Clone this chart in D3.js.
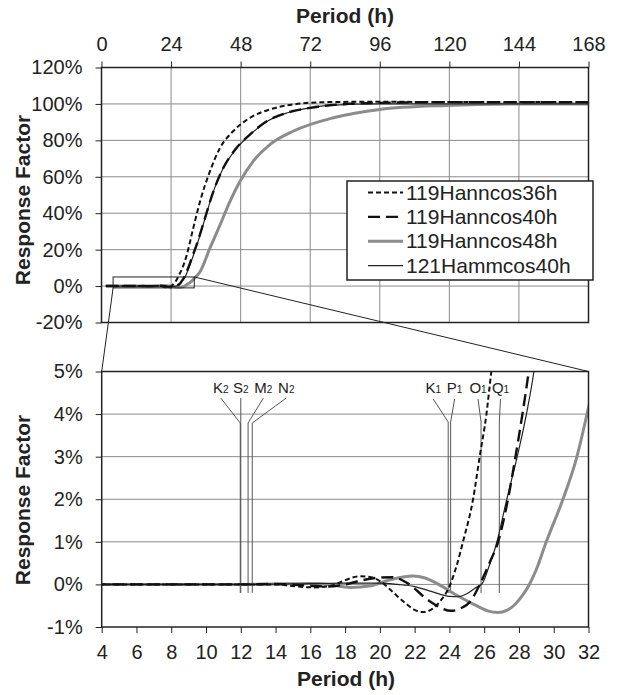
<!DOCTYPE html>
<html>
<head>
<meta charset="utf-8">
<script src="https://cdn.jsdelivr.net/npm/d3@7"></script>
<style>
  body { margin: 0; background: #fff; }
  svg text { font-family: "Liberation Sans", Arial, sans-serif; fill: #222; }
</style>
</head>
<body>
<svg id="chart" width="617" height="695"></svg>
<script>
// tick labels
const topHours = [0, 24, 48, 72, 96, 120, 144, 168];
const topPct = [-20, 0, 20, 40, 60, 80, 100, 120];
const zoomHours = [4, 6, 8, 10, 12, 14, 16, 18, 20, 22, 24, 26, 28, 30, 32];
const zoomPct = [-1, 0, 1, 2, 3, 4, 5];

// response factor (%) against period (h)
const seriesNames = ["119Hanncos36h", "119Hanncos40h", "119Hanncos48h", "121Hammcos40h"];

const hann36 = [[1.5,0],[4,0],[8,0],[12,0],[14,0],[15,-0.04],[16.2,-0.07],[17.2,-0.03],[18,0.1],[18.8,0.19],
  [19.5,0.17],[20.2,0.02],[20.8,-0.2],[21.5,-0.45],[22,-0.6],[22.5,-0.65],[23,-0.58],[23.5,-0.38],[24.05,0],
  [24.4,0.42],[24.78,1],[25.36,2],[25.74,3],[26.13,4],[26.41,5],[27.5,8.5],[28.5,12.5],[29.4,17],[31.65,31.8],
  [34,46.5],[37.4,63],[40.9,75.9],[45.4,85],[51.2,92.4],[58.1,97],[66.1,99.7],[77.7,101],[96,101.2],[120,101],[168,101]];

const hann40 = [[1.5,0],[4,0],[8,0],[12,0],[14,0.01],[16,-0.03],[17,-0.05],[18,0],[19,0.1],[20,0.16],[20.7,0.17],
  [21.5,0.05],[22,-0.1],[22.5,-0.28],[23,-0.43],[23.5,-0.55],[24.1,-0.62],[24.6,-0.57],[25.2,-0.4],[25.75,0],
  [26.3,0.5],[26.8,1],[27.37,2],[27.8,3],[28.2,4],[28.56,5],[29.4,8],[30.5,12.5],[31.5,17],[32.8,22.6],[35.7,37.3],
  [38.6,52],[42,64.8],[46.6,75.9],[51.2,83.2],[57,90.5],[63.9,95.1],[71.9,97.8],[78.8,99.3],[96,100.6],[120,101],[168,101]];

const hann48 = [[1.5,0],[4,0],[8,0],[12,0],[14,0.01],[16,0.02],[17,0],[18.3,-0.07],[19.5,-0.03],[20.5,0.1],[21.9,0.2],
  [22.6,0.15],[23.25,0.03],[24.4,-0.25],[25.55,-0.5],[26.2,-0.62],[26.8,-0.66],[27.3,-0.61],[27.8,-0.46],[28.2,-0.26],
  [28.6,0],[29,0.35],[29.57,1],[30.53,2],[31.3,2.95],[32,4.15],[34,7.9],[37.4,20.8],[40.9,33.6],[44.3,46.4],
  [47.8,57.5],[52.3,68.5],[58.1,77.7],[66.1,85],[80,92.4],[96,97],[119,99.2],[143,100],[168,100]];

const hamm40 = [[1.5,0],[4,0],[8,0],[12,0],[16,0.02],[18,0.03],[20,0.03],[21,0],[22,-0.05],[23,-0.17],[24,-0.28],
  [24.5,-0.29],[25,-0.22],[25.5,-0.08],[25.9,0.03],[26.3,0.45],[26.7,0.95],[27.3,2],[27.9,3],[28.43,4],[28.86,5],
  [29.6,7.8],[30.5,11.5],[31.5,16],[32.8,22],[35.7,37],[38.6,52],[42,64.8],[46.6,75.6],[51.2,83],[57,90.3],
  [63.9,95],[71.9,97.8],[78.8,99.2],[96,100],[168,100]];

// tidal constituents (period, h)
const semiNames = ["K2", "S2", "M2", "N2"];
const semiPeriods = [11.97, 12.0, 12.42, 12.66];
const diurNames = ["K1", "P1", "O1", "Q1"];
const diurPeriods = [23.93, 24.07, 25.82, 26.87];

const allSeries = [hann36, hann40, hann48, hamm40];
const styles = [
  { stroke: "#111", width: 2, dash: "5,3" },
  { stroke: "#111", width: 2.4, dash: "12,6" },
  { stroke: "#8c8c8c", width: 3, dash: null },
  { stroke: "#222", width: 1.2, dash: null },
];

const svg = d3.select("#chart");

// ---------- top panel ----------
const xTop = d3.scaleLinear().domain([0, 168]).range([101.5, 588.5]);
const yTop = d3.scaleLinear().domain([-20, 120]).range([322.5, 67.5]);

// ---------- zoom panel ----------
const xZoom = d3.scaleLinear().domain([4, 32]).range([101.7, 588.5]);
const yZoom = d3.scaleLinear().domain([-1, 5]).range([627, 371.5]);

function drawGrid(g, x, y, xVals, yVals) {
  g.append("g")
    .selectAll("line")
    .data(yVals)
    .enter()
    .append("line")
    .attr("x1", x.range()[0])
    .attr("x2", x.range()[1])
    .attr("y1", (d) => y(d))
    .attr("y2", (d) => y(d))
    .attr("stroke", "#8a8a8a")
    .attr("stroke-width", 1);
  if (xVals) {
    g.append("g")
      .selectAll("line")
      .data(xVals)
      .enter()
      .append("line")
      .attr("x1", (d) => x(d))
      .attr("x2", (d) => x(d))
      .attr("y1", y.range()[0])
      .attr("y2", y.range()[1])
      .attr("stroke", "#8a8a8a")
      .attr("stroke-width", 1);
  }
}

function drawCurves(g, x, y, clipId) {
  svg
    .append("clipPath")
    .attr("id", clipId)
    .append("rect")
    .attr("x", x.range()[0])
    .attr("y", y.range()[1])
    .attr("width", x.range()[1] - x.range()[0])
    .attr("height", y.range()[0] - y.range()[1]);

  const line = d3
    .line()
    .x((d) => x(d[0]))
    .y((d) => y(d[1]))
    .curve(d3.curveMonotoneX);

  const cg = g.append("g").attr("clip-path", `url(#${clipId})`);
  // draw grey, thin, then dashed on top
  [2, 3, 1, 0].forEach((i) => {
    cg.append("path")
      .datum(allSeries[i])
      .attr("d", line)
      .attr("fill", "none")
      .attr("stroke", styles[i].stroke)
      .attr("stroke-width", styles[i].width)
      .attr("stroke-dasharray", styles[i].dash);
  });
}

function frame(g, x, y) {
  g.append("rect")
    .attr("x", x.range()[0])
    .attr("y", y.range()[1])
    .attr("width", x.range()[1] - x.range()[0])
    .attr("height", y.range()[0] - y.range()[1])
    .attr("fill", "none")
    .attr("stroke", "#222")
    .attr("stroke-width", 1.5);
}

function styleAxis(a) {
  a.select(".domain").remove();
  a.selectAll(".tick line").attr("stroke", "#222").attr("stroke-width", 1);
  a.selectAll("text").style("font-size", "20px").attr("fill", "#222");
}

// top panel
const gTop = svg.append("g");
drawGrid(gTop, xTop, yTop, topHours.slice(1, -1), topPct.slice(1, -1));
drawCurves(gTop, xTop, yTop, "clipTop");

// zoom box in top panel
gTop
  .append("rect")
  .attr("x", xTop(4))
  .attr("y", yTop(5))
  .attr("width", xTop(32) - xTop(4))
  .attr("height", yTop(-1) - yTop(5))
  .attr("fill", "none")
  .attr("stroke", "#222")
  .attr("stroke-width", 1);

frame(gTop, xTop, yTop);

const axTop = gTop
  .append("g")
  .attr("transform", `translate(0,${yTop.range()[1]})`)
  .call(d3.axisTop(xTop).tickValues(topHours).tickSize(6).tickPadding(11));
styleAxis(axTop);

const axTopLeft = gTop
  .append("g")
  .attr("transform", `translate(${xTop.range()[0]},0)`)
  .call(d3.axisLeft(yTop).tickValues(topPct).tickSize(6).tickPadding(13).tickFormat((d) => d + "%"));
styleAxis(axTopLeft);

// legend
const legend = gTop.append("g");
legend
  .append("rect")
  .attr("x", 347)
  .attr("y", 181)
  .attr("width", 246)
  .attr("height", 99)
  .attr("fill", "#fff")
  .attr("stroke", "#222")
  .attr("stroke-width", 1.5);

seriesNames.forEach((name, i) => {
  const by = 199.5 + i * 24.4;
  legend
    .append("line")
    .attr("x1", 368)
    .attr("x2", 403)
    .attr("y1", by - 7)
    .attr("y2", by - 7)
    .attr("stroke", styles[i].stroke)
    .attr("stroke-width", styles[i].width)
    .attr("stroke-dasharray", styles[i].dash);
  legend
    .append("text")
    .attr("x", 406)
    .attr("y", by)
    .style("font-size", "21px")
    .text(name);
});

// connector lines
svg
  .append("line")
  .attr("x1", xTop(4))
  .attr("y1", yTop(-1))
  .attr("x2", xZoom(4))
  .attr("y2", yZoom(5))
  .attr("stroke", "#222")
  .attr("stroke-width", 1);
svg
  .append("line")
  .attr("x1", xTop(32))
  .attr("y1", yTop(5))
  .attr("x2", xZoom(32))
  .attr("y2", yZoom(5))
  .attr("stroke", "#222")
  .attr("stroke-width", 1);

// zoom panel
const gZoom = svg.append("g");
drawGrid(gZoom, xZoom, yZoom, null, zoomPct.slice(1, -1));

// constituent markers
function constituents(names, periods, labelDx, topY, bendY, labelY) {
  const lineBottom = yZoom(-0.2);
  periods.forEach((p, i) => {
    const lx = xZoom(p);
    const tx = lx + labelDx[i];
    gZoom
      .append("path")
      .attr("d", `M${tx},${topY}L${lx},${bendY}L${lx},${lineBottom}`)
      .attr("fill", "none")
      .attr("stroke", "#555")
      .attr("stroke-width", 1);
    const t = gZoom
      .append("text")
      .attr("x", tx)
      .attr("y", labelY)
      .attr("text-anchor", "middle")
      .style("font-size", "15px");
    t.append("tspan").text(names[i][0]);
    t.append("tspan").style("font-size", "10px").text(names[i].slice(1));
  });
}
constituents(semiNames, semiPeriods, [-19.5, 0, 15.3, 34], 398, 423, 393);
constituents(diurNames, diurPeriods, [-15, 4, -3, 1.2], 399, 422, 393);

drawCurves(gZoom, xZoom, yZoom, "clipZoom");
frame(gZoom, xZoom, yZoom);

const axZoomB = gZoom
  .append("g")
  .attr("transform", `translate(0,${yZoom.range()[0]})`)
  .call(d3.axisBottom(xZoom).tickValues(zoomHours).tickSize(6).tickPadding(12));
styleAxis(axZoomB);

const axZoomL = gZoom
  .append("g")
  .attr("transform", `translate(${xZoom.range()[0]},0)`)
  .call(d3.axisLeft(yZoom).tickValues(zoomPct).tickSize(6).tickPadding(13).tickFormat((d) => d + "%"));
styleAxis(axZoomL);

// titles
function title(x, y, txt, rotate) {
  svg
    .append("text")
    .attr("transform", `translate(${x},${y})` + (rotate ? " rotate(-90)" : ""))
    .attr("text-anchor", "middle")
    .style("font-size", "21px")
    .style("font-weight", "bold")
    .text(txt);
}
title(345, 23, "Period (h)");
title(346, 686, "Period (h)");
title(30, 200, "Response Factor", true);
title(30, 500, "Response Factor", true);
</script>
</body>
</html>
